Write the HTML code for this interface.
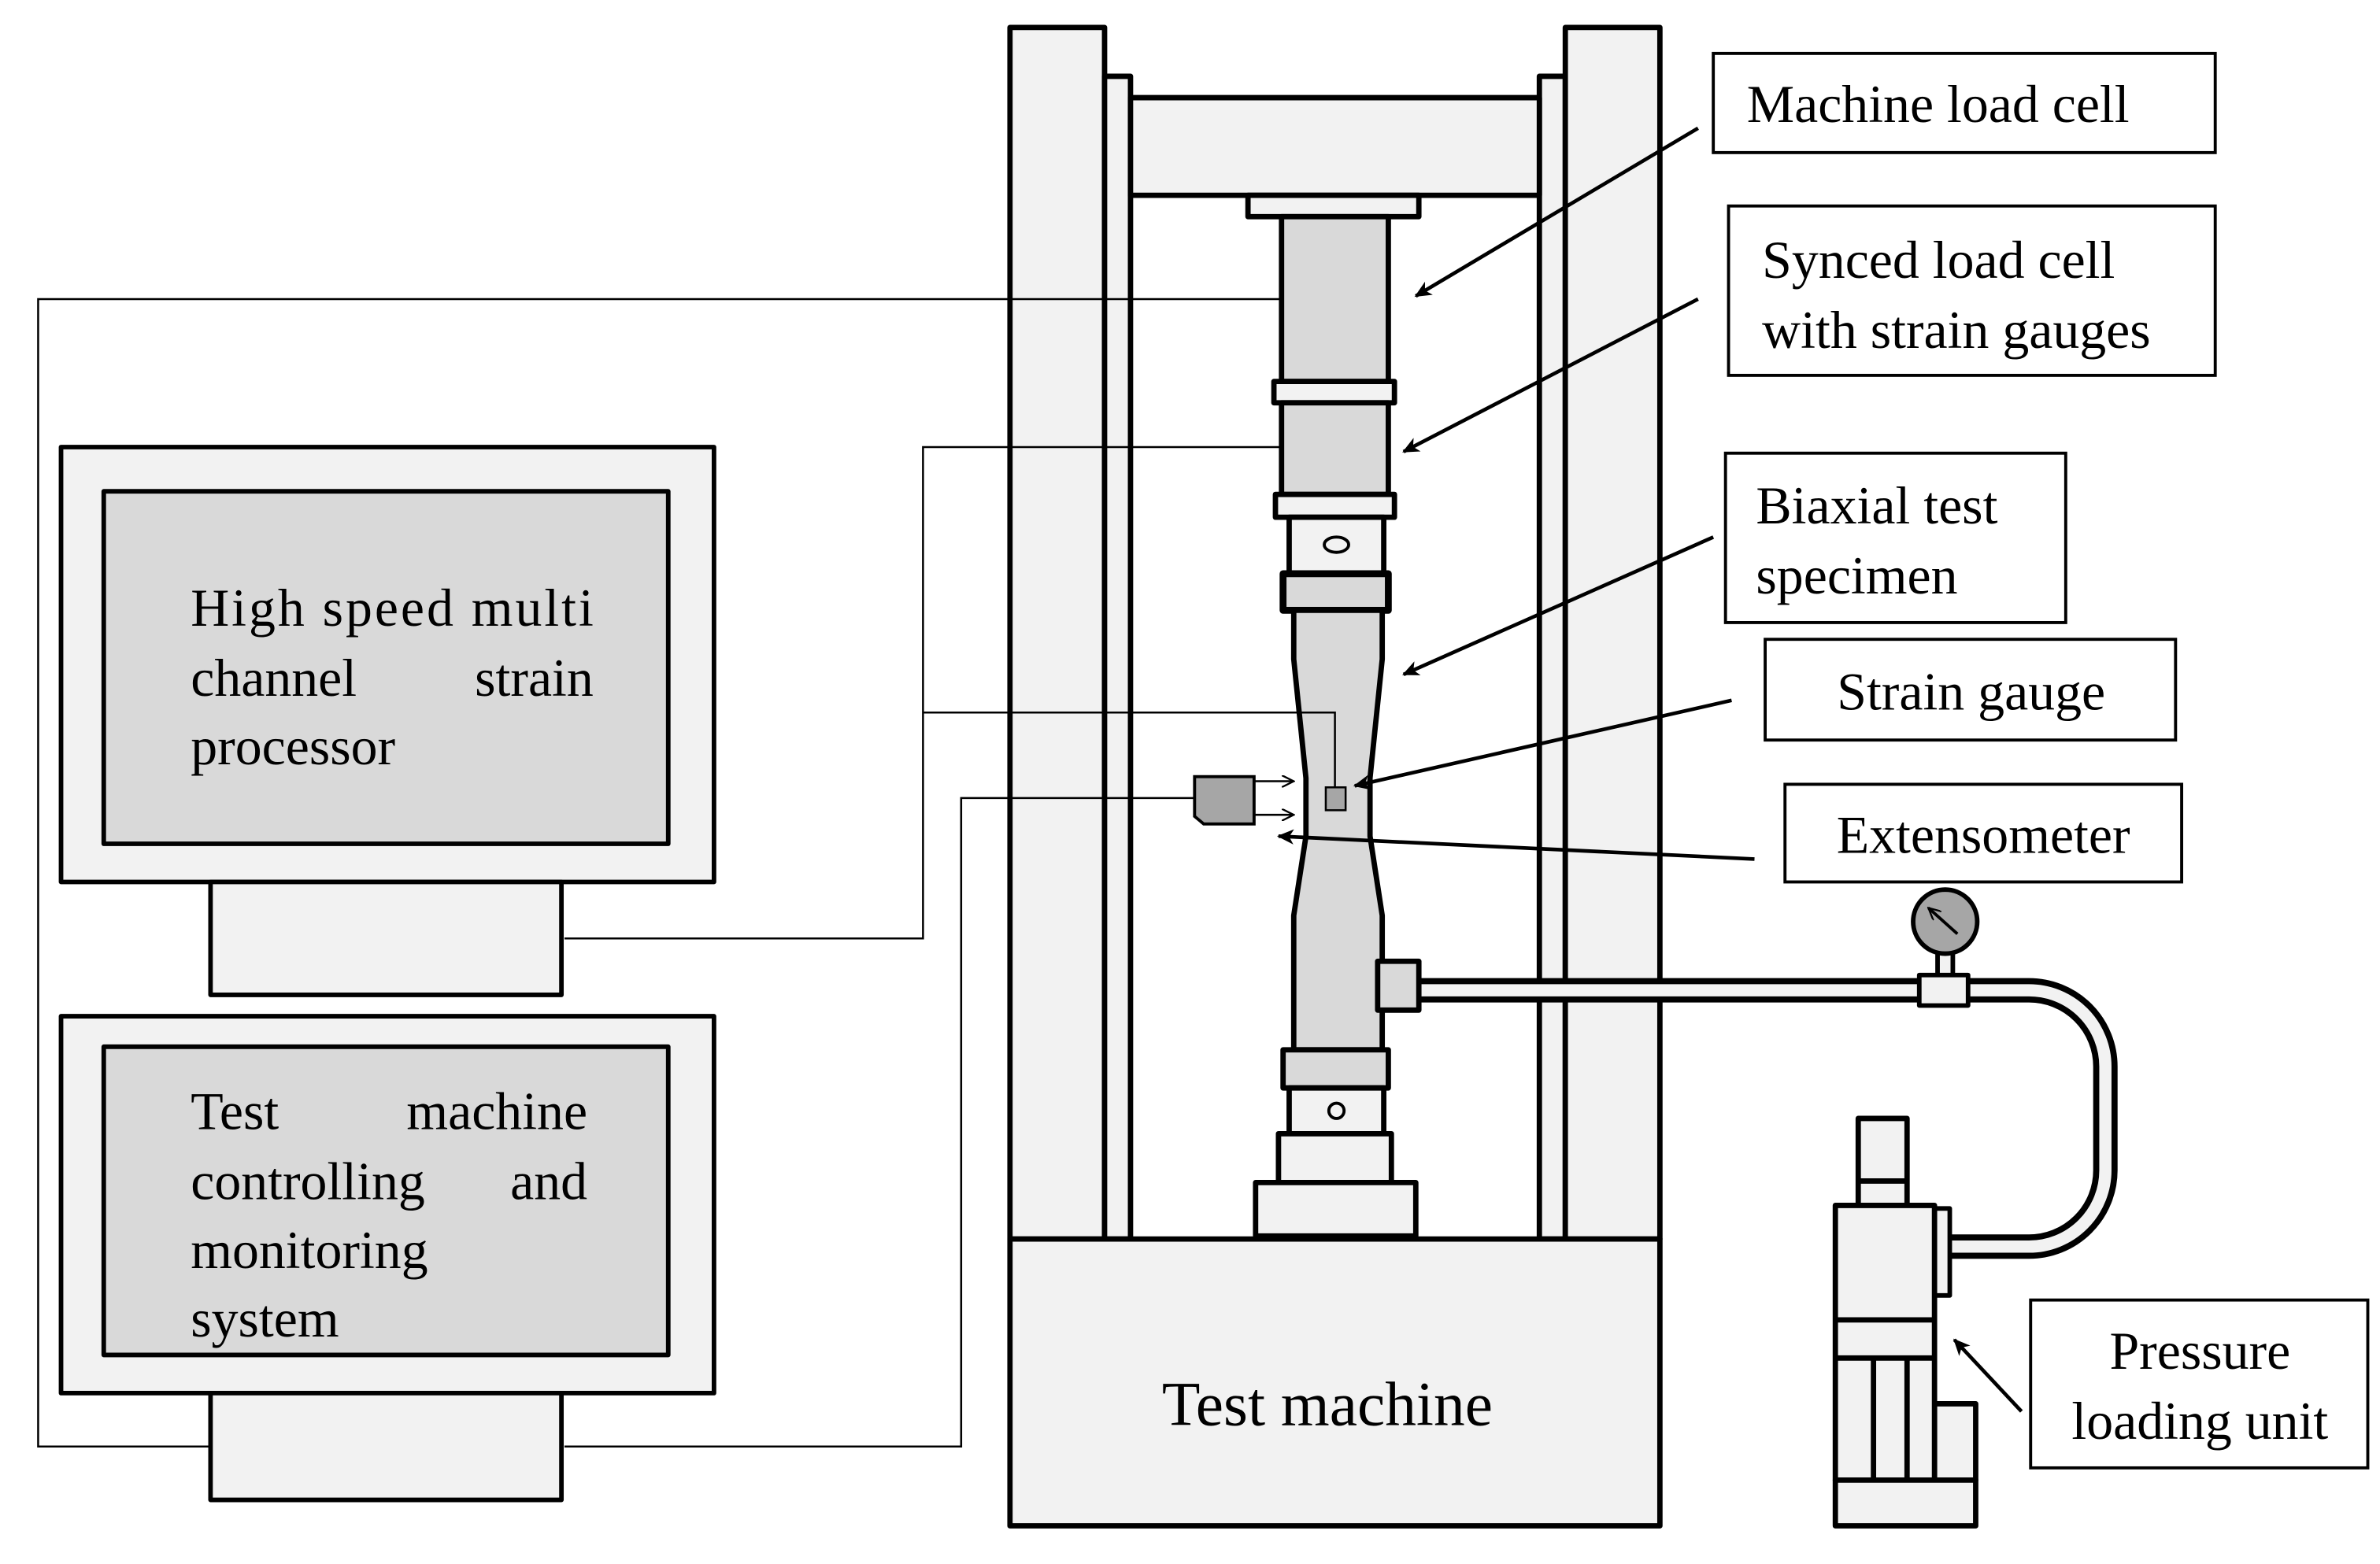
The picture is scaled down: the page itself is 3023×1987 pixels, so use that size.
<!DOCTYPE html>
<html><head><meta charset="utf-8"><style>
html,body{margin:0;padding:0;background:#fff;}
svg{display:block;}
text{font-family:"Liberation Serif",serif;fill:#000;}
</style></head><body>
<svg width="3023" height="1987" viewBox="0 0 1560 1025" preserveAspectRatio="none" xmlns="http://www.w3.org/2000/svg">
<defs>
<marker id="a" markerWidth="12" markerHeight="10" refX="10" refY="5" orient="auto" markerUnits="userSpaceOnUse">
<path d="M0,0 L11,5 L0,10 L3,5 z" fill="#000"/></marker>
<marker id="s" markerWidth="9" markerHeight="8" refX="8" refY="4" orient="auto" markerUnits="userSpaceOnUse">
<path d="M0,0 L8,4 L0,8" fill="none" stroke="#000" stroke-width="1.2"/></marker>
</defs>
<rect width="1560" height="1025" fill="#fff"/>
<g stroke="#000" stroke-width="3.5" stroke-linejoin="round">
<rect x="662" y="18" width="62" height="794" fill="#f2f2f2"/>
<rect x="724" y="50" width="17" height="762" fill="#f2f2f2"/>
<rect x="1009" y="50" width="17" height="762" fill="#f2f2f2"/>
<rect x="1026" y="18" width="62" height="794" fill="#f2f2f2"/>
<rect x="741" y="64" width="268" height="64" fill="#f2f2f2"/>
<rect x="662" y="812" width="426" height="188" fill="#f2f2f2"/>
<rect x="818" y="128" width="112" height="14" fill="#f2f2f2"/>
<rect x="840" y="142" width="70" height="108" fill="#d9d9d9"/>
<rect x="835" y="250" width="79" height="14" fill="#f2f2f2"/>
<rect x="840" y="264" width="70" height="60" fill="#d9d9d9"/>
<rect x="836" y="324" width="78" height="15" fill="#f2f2f2"/>
<rect x="845" y="339" width="62" height="37" fill="#f2f2f2"/>
<rect x="841" y="376" width="69" height="24" fill="#d9d9d9" stroke-width="4.5"/>
<path d="M848,400 L906,400 L906,432 L898,510 L898,548 L906,600 L906,688 L848,688 L848,600 L856,548 L856,510 L848,432 Z" fill="#d9d9d9"/>
<rect x="841" y="688" width="69" height="25" fill="#d9d9d9"/>
<rect x="845" y="713" width="62" height="30" fill="#f2f2f2"/>
<rect x="838" y="743" width="74" height="32" fill="#f2f2f2"/>
<rect x="823" y="775" width="105" height="35" fill="#f2f2f2"/>
<path d="M930,649 H1330 A50,50 0 0 1 1380,699 V767 A50,50 0 0 1 1330,817 H1274" fill="none" stroke-width="16"/>
<path d="M930,649 H1330 A50,50 0 0 1 1380,699 V767 A50,50 0 0 1 1330,817 H1274" fill="none" stroke="#f2f2f2" stroke-width="8"/>
<rect x="903" y="630" width="27" height="32" fill="#d9d9d9"/>
<rect x="1270" y="624" width="10" height="16" fill="#f2f2f2" stroke-width="3"/>
<rect x="1258" y="639" width="32" height="20" fill="#f2f2f2" stroke-width="3"/>
<circle cx="1275" cy="604" r="21" fill="#a6a6a6" stroke-width="3"/>
<rect x="1218" y="733" width="32" height="57" fill="#f2f2f2"/>
<line x1="1218" y1="774" x2="1250" y2="774"/>
<rect x="1268" y="792" width="10" height="57" fill="#f2f2f2" stroke-width="3"/>
<rect x="1268" y="920" width="27" height="50" fill="#f2f2f2"/>
<rect x="1203" y="790" width="65" height="180" fill="#f2f2f2"/>
<rect x="1203" y="970" width="92" height="30" fill="#f2f2f2"/>
<line x1="1203" y1="865" x2="1268" y2="865"/>
<line x1="1203" y1="890" x2="1268" y2="890"/>
<line x1="1228" y1="890" x2="1228" y2="970"/>
<line x1="1250" y1="890" x2="1250" y2="970"/>
<rect x="40" y="293" width="428" height="285" fill="#f2f2f2" stroke-width="3"/>
<rect x="68" y="322" width="370" height="231" fill="#d9d9d9" stroke-width="3"/>
<rect x="138" y="578" width="230" height="74" fill="#f2f2f2" stroke-width="3"/>
<rect x="40" y="666" width="428" height="247" fill="#f2f2f2" stroke-width="3"/>
<rect x="68" y="686" width="370" height="202" fill="#d9d9d9" stroke-width="3"/>
<rect x="138" y="913" width="230" height="70" fill="#f2f2f2" stroke-width="3"/>
</g>
<g stroke="#000" stroke-width="2" fill="none">
<ellipse cx="876" cy="357" rx="8" ry="5"/>
<circle cx="876" cy="728" r="5"/>
<line x1="1283" y1="612" x2="1264" y2="595" marker-end="url(#s)"/>
<rect x="1123" y="35" width="329" height="65"/>
<rect x="1133" y="135" width="319" height="111"/>
<rect x="1131" y="297" width="223" height="111"/>
<rect x="1157" y="419" width="269" height="66"/>
<rect x="1170" y="514" width="260" height="64"/>
<rect x="1331" y="852" width="221" height="110"/>
</g>
<g stroke="#000" stroke-width="2.4" fill="none">
<line x1="1113" y1="84" x2="928" y2="194" marker-end="url(#a)"/>
<line x1="1113" y1="196" x2="920" y2="296" marker-end="url(#a)"/>
<line x1="1123" y1="352" x2="920" y2="442" marker-end="url(#a)"/>
<line x1="1135" y1="459" x2="888" y2="515" marker-end="url(#a)"/>
<line x1="1150" y1="563" x2="838" y2="548" marker-end="url(#a)"/>
<line x1="1325" y1="925" x2="1281" y2="878" marker-end="url(#a)"/>
</g>
<g stroke="#000" stroke-width="1.3" fill="none">
<polyline points="840,196 25,196 25,948 138,948"/>
<polyline points="840,293 605,293 605,615 370,615"/>
<polyline points="605,467 875,467 875,516"/>
<polyline points="783,523 630,523 630,948 370,948"/>
<line x1="822" y1="512" x2="848" y2="512" marker-end="url(#s)"/>
<line x1="822" y1="534" x2="848" y2="534" marker-end="url(#s)"/>
</g>
<rect x="869" y="516" width="13" height="15" fill="#a6a6a6" stroke="#000" stroke-width="1.3"/>
<path d="M783,509 H822 V540 H789 L783,535 Z" fill="#a6a6a6" stroke="#000" stroke-width="2"/>
<g font-size="35">
<text x="1145" y="80">Machine load cell</text>
<text x="1155" y="182">Synced load cell</text>
<text x="1155" y="228">with strain gauges</text>
<text x="1151" y="343">Biaxial test</text>
<text x="1151" y="389">specimen</text>
<text x="1292" y="465" text-anchor="middle">Strain gauge</text>
<text x="1300" y="559" text-anchor="middle">Extensometer</text>
<text x="1442" y="897" text-anchor="middle">Pressure</text>
<text x="1442" y="943" text-anchor="middle">loading unit</text>
<text x="125" y="410" textLength="264" lengthAdjust="spacing">High speed multi</text>
<text x="125" y="456">channel</text>
<text x="389" y="456" text-anchor="end">strain</text>
<text x="125" y="501">processor</text>
<text x="125" y="740">Test</text>
<text x="385" y="740" text-anchor="end">machine</text>
<text x="125" y="786">controlling</text>
<text x="385" y="786" text-anchor="end">and</text>
<text x="125" y="831">monitoring</text>
<text x="125" y="876">system</text>
</g>
<text x="870" y="934" font-size="41" text-anchor="middle">Test machine</text>
</svg>
</body></html>
